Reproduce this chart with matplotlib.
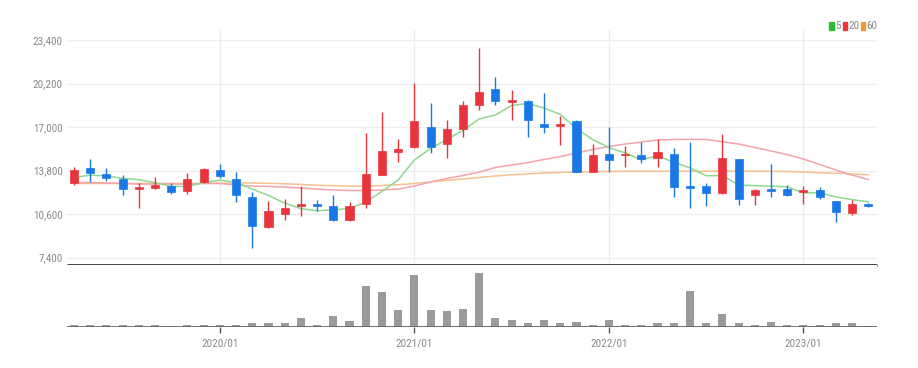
import matplotlib
matplotlib.use("Agg")
import matplotlib.pyplot as plt
from matplotlib import font_manager
from matplotlib.ticker import FixedLocator, FuncFormatter

# monthly candles 2019/04 .. 2023/05
months = ["2019/%02d" % m for m in range(4, 13)] + \
         ["2020/%02d" % m for m in range(1, 13)] + \
         ["2021/%02d" % m for m in range(1, 13)] + \
         ["2022/%02d" % m for m in range(1, 13)] + \
         ["2023/%02d" % m for m in range(1, 6)]

opens = [12870, 14000, 13560, 13170, 12450, 12500, 12700, 12330, 12990, 13850,
         13170, 11890, 9640, 10620, 11230, 11350, 11230, 10170, 11330, 13500,
         15200, 15520, 16990, 15760, 16850, 18630, 19790, 18850, 18950, 17240,
         17090, 17460, 13730, 15010, 14930, 14980, 14710, 15010, 12670, 12670,
         12140, 14640, 11990, 12450, 12480, 12230, 12380, 11590, 10710, 11350]
highs = [14090, 14640, 13980, 13480, 12920, 13310, 12920, 13610, 13980, 14290,
         13730, 12260, 11590, 11700, 12700, 11640, 11990, 11520, 16600, 18140,
         16150, 20230, 18760, 17530, 18950, 22800, 20670, 19740, 19000, 19490,
         17820, 17500, 15760, 17040, 15620, 15890, 16150, 15450, 15890, 12920,
         16500, 14650, 12480, 14290, 12750, 12670, 12620, 11600, 11640, 11450]
lows = [12750, 12990, 13060, 11990, 11030, 12430, 12090, 12090, 12920, 13240,
        11520, 8090, 9560, 10170, 10490, 10840, 10100, 10100, 11030, 13450,
        14460, 15450, 15080, 14710, 16300, 18270, 18630, 17530, 16300, 16550,
        15690, 13700, 13700, 13730, 14050, 14340, 14090, 11890, 11030, 11200,
        12100, 11280, 11280, 11890, 11940, 11350, 11700, 10050, 10540, 11110]
closes = [13850, 13610, 13240, 12430, 12580, 12750, 12260, 13170, 13900, 13410,
          11990, 9750, 10860, 11080, 11350, 11200, 10170, 11230, 13560, 15230,
          15400, 17480, 15520, 16850, 18610, 19610, 18930, 19000, 17530, 16990,
          17240, 13730, 14960, 14590, 15050, 14680, 15150, 12620, 12530, 12180,
          14710, 11700, 12380, 12330, 11990, 12380, 11840, 10780, 11350, 11200]

ma5 = [13290, 13480, 13410, 13240, 13140, 12920, 12650, 12640, 12930, 13100,
       12950, 12440, 11980, 11420, 11010, 10850, 10930, 11010, 11500, 12280,
       13120, 14580, 15440, 16090, 16770, 17610, 17900, 18600, 18740, 18410,
       17940, 16900, 16090, 15500, 15110, 14600, 14890, 14420, 14010, 13430,
       13440, 12750, 12700, 12660, 12620, 12160, 12180, 11870, 11670, 11510]
ma20 = [12930, 12930, 12900, 12860, 12820, 12820, 12820, 12820, 12860, 12860,
        12750, 12670, 12640, 12600, 12530, 12450, 12380, 12340, 12340, 12380,
        12450, 12670, 12970, 13230, 13450, 13700, 14040, 14220, 14400, 14620,
        14840, 15100, 15360, 15580, 15760, 15910, 16060, 16100, 16110, 16090,
        15930, 15760, 15510, 15250, 14990, 14660, 14260, 13850, 13480, 13150]
ma60 = [12860, 12860, 12860, 12860, 12860, 12860, 12860, 12860, 12870, 12870,
        12900, 12900, 12870, 12840, 12790, 12730, 12700, 12670, 12670, 12710,
        12770, 12860, 12970, 13090, 13190, 13300, 13410, 13500, 13570, 13630,
        13670, 13700, 13730, 13740, 13760, 13760, 13760, 13760, 13760, 13760,
        13760, 13760, 13760, 13760, 13740, 13700, 13650, 13610, 13560, 13500]
volume = [240, 240, 240, 170, 170, 170, 100, 240, 170, 240,
          200, 370, 370, 440, 900, 240, 1070, 570, 4070, 3500,
          1700, 5170, 1740, 1570, 1770, 5440, 900, 670, 400, 700,
          400, 500, 240, 740, 170, 240, 370, 400, 3570, 400,
          1300, 400, 240, 500, 200, 170, 240, 400, 400, 70]

y_ticks = [7400, 10600, 13800, 17000, 20200, 23400]
x_tick_labels = ["2020/01", "2021/01", "2022/01", "2023/01"]

UP = "#e8343c"
DOWN = "#1a78e6"
GRID = "#ededed"
TXT = "#8a8a8a"

# pick a narrow face if one is installed
installed = {f.name for f in font_manager.fontManager.ttflist}
narrow = [n for n in ["Liberation Sans Narrow", "Roboto Condensed",
                      "DejaVu Sans Condensed", "Open Sans Condensed"]
          if n in installed]
plt.rcParams["font.family"] = narrow[:1] + ["DejaVu Sans"]
if not narrow:
    plt.rcParams["font.stretch"] = "condensed"
fs = 8 if narrow else 7

fig = plt.figure(figsize=(9.18, 3.68), dpi=100)
W, H = 918, 368
ax = fig.add_axes([67 / W, 1 - 265 / H, 810 / W, 235 / H])
axv = fig.add_axes([67 / W, 1 - 327 / H, 810 / W, 62 / H])

x = list(range(len(months)))
xlim = (-0.43, len(months) - 1 + 0.54)

# price panel
ax.set_xlim(*xlim)
ax.set_ylim(6863, 24150)
ax.set_yticks(y_ticks)
ax.yaxis.set_major_formatter(FuncFormatter(lambda v, p: f"{int(v):,}"))
tick_idx = [months.index(m) for m in x_tick_labels]
ax.xaxis.set_major_locator(FixedLocator(tick_idx))
ax.set_xticklabels([])
ax.grid(True, color=GRID, lw=1)
ax.set_axisbelow(True)
ax.tick_params(axis="y", length=0, pad=3, labelsize=fs, labelcolor=TXT)
ax.tick_params(axis="x", length=0)
for s in ["top", "right", "left"]:
    ax.spines[s].set_visible(False)
ax.spines["bottom"].set_color("#333333")
ax.spines["bottom"].set_linewidth(2)
ax.spines["bottom"].set_capstyle("butt")

ax.plot(x, ma60, color="#f7c08e", lw=1.1, zorder=2)
ax.plot(x, ma20, color="#f4a3ab", lw=1.1, zorder=2)
ax.plot(x, ma5, color="#8fd88f", lw=1.1, zorder=2)

bw = 0.5
for i in x:
    o, h, l, c = opens[i], highs[i], lows[i], closes[i]
    col = UP if c >= o else DOWN
    ax.vlines(i, l, h, color=col, lw=1, zorder=3)
    lo, hi = min(o, c), max(o, c)
    if hi - lo < 60:
        hi = lo + 60
    ax.bar(i, hi - lo, bottom=lo, width=bw, color=col, edgecolor=col,
           lw=0.5, zorder=4)

# legend
leg = [("5", "#2fbd2f"), ("20", "#e8343c"), ("60", "#f39a34")]
lx = 829
for lab, col in leg:
    fig.patches.append(plt.Rectangle((lx / W, 1 - 30 / H), 4.5 / W, 8 / H,
                                     transform=fig.transFigure, color=col))
    fig.text((lx + 6) / W, 1 - 26 / H, lab, fontsize=fs, color=TXT,
             va="center", ha="left")
    lx += 6 + 4.5 * len(lab) + 3

# volume panel
axv.set_xlim(*xlim)
axv.set_ylim(0, 6200)
axv.bar(x, volume, width=bw, color="#9b9b9b", zorder=2)
axv.axhline(0, color="#666666", lw=2, zorder=3)
axv.set_yticks([])
axv.xaxis.set_major_locator(FixedLocator(tick_idx))
axv.set_xticklabels(x_tick_labels)
axv.tick_params(axis="x", length=4, width=1, color="#555555", pad=4,
                labelsize=fs, labelcolor=TXT)
for s in ["top", "right", "left", "bottom"]:
    axv.spines[s].set_visible(False)

fig.savefig("out.png", dpi=100)
